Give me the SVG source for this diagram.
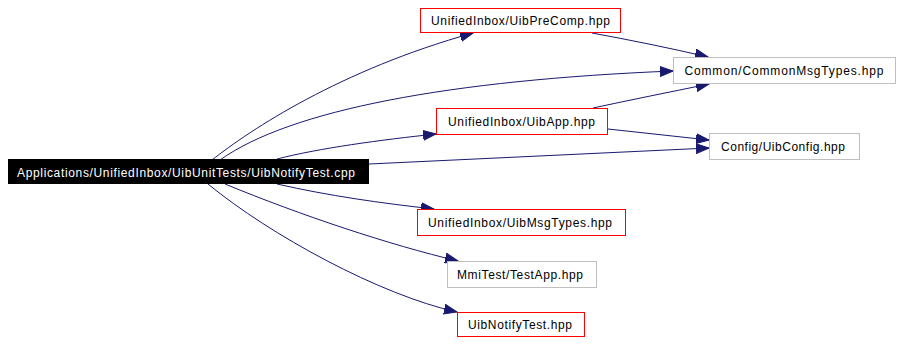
<svg xmlns="http://www.w3.org/2000/svg" width="901" height="344" viewBox="0 0 901 344">
  <style>
    .node rect { fill: #ffffff; stroke-width: 1; }
    .red rect { stroke: #ff0000; }
    .grey rect { stroke: #bfbfbf; }
    .node text { font-family: "Liberation Sans", Arial, sans-serif; font-size: 12px; fill: #000000; text-anchor: middle; }
    .root rect { fill: #000000; stroke: #000000; }
    .root text { fill: #ffffff; }
    .edges path { fill: none; stroke: #191970; stroke-width: 1; marker-end: url(#arrow); }
  </style>
  <defs>
    <marker id="arrow" markerUnits="userSpaceOnUse" markerWidth="15" markerHeight="11" refX="13" refY="5.5" orient="auto">
      <path d="M0,0.5 L13,5.5 L0,10.5 z" fill="#191970" stroke="#191970" stroke-width="1"/>
    </marker>
  </defs>
  <rect width="901" height="344" fill="#ffffff"/>

  <!-- include dependencies -->
  <g class="edges" id="edges">
    <path d="M212,160 C250,130 340,70 473,33"/>
    <path d="M220,160 C290,110 450,80 673,71"/>
    <path d="M277,159 C320,148 380,140 436,134"/>
    <path d="M369,164 L709,148"/>
    <path d="M592,33 C630,40 670,48 708,57"/>
    <path d="M593,108 C630,100 670,92 709,84"/>
    <path d="M608,129 L709,140"/>
    <path d="M277,184 C330,196 380,203 434,209"/>
    <path d="M225,184 C300,215 390,245 458,261"/>
    <path d="M208,184 C270,235 380,295 457,312"/>
  </g>

  <g id="node-root" class="node root">
    <rect x="8.5" y="159.5" width="360" height="24"/>
    <text x="186" y="177" textLength="338" lengthAdjust="spacing">Applications/UnifiedInbox/UibUnitTests/UibNotifyTest.cpp</text>
  </g>
  <g id="node-uibprecomp" class="node red">
    <rect x="420.5" y="8.5" width="200" height="24"/>
    <text x="520.5" y="25" textLength="179" lengthAdjust="spacing">UnifiedInbox/UibPreComp.hpp</text>
  </g>
  <g id="node-commonmsgtypes" class="node grey">
    <rect x="673.5" y="57.5" width="222" height="26"/>
    <text x="784" y="75" textLength="199" lengthAdjust="spacing">Common/CommonMsgTypes.hpp</text>
  </g>
  <g id="node-uibapp" class="node red">
    <rect x="436.5" y="108.5" width="171" height="26"/>
    <text x="521.5" y="126" textLength="147" lengthAdjust="spacing">UnifiedInbox/UibApp.hpp</text>
  </g>
  <g id="node-uibconfig" class="node grey">
    <rect x="709.5" y="133.5" width="150" height="26"/>
    <text x="783" y="151" textLength="124" lengthAdjust="spacing">Config/UibConfig.hpp</text>
  </g>
  <g id="node-uibmsgtypes" class="node red">
    <rect x="417.5" y="209.5" width="208" height="26"/>
    <text x="520" y="227" textLength="184" lengthAdjust="spacing">UnifiedInbox/UibMsgTypes.hpp</text>
  </g>
  <g id="node-testapp" class="node grey">
    <rect x="447.5" y="261.5" width="149" height="26"/>
    <text x="520" y="279" textLength="126" lengthAdjust="spacing">MmiTest/TestApp.hpp</text>
  </g>
  <g id="node-uibnotifytest" class="node red">
    <rect x="457.5" y="312.5" width="127" height="24"/>
    <text x="520" y="329" textLength="104" lengthAdjust="spacing">UibNotifyTest.hpp</text>
  </g>
</svg>
